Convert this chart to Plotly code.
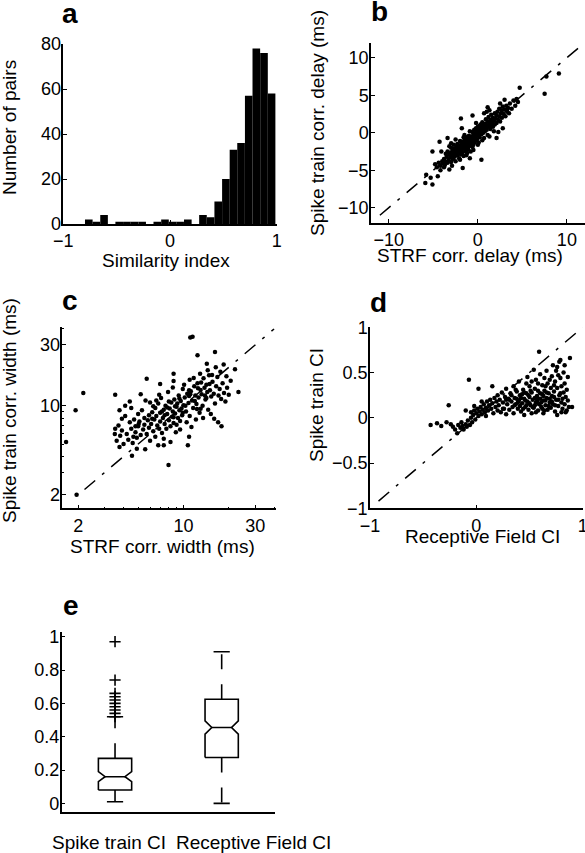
import plotly.graph_objects as go

W, H = 585, 853

# ---------------- Panel a: histogram of similarity index ----------------
sim_bin_centers = [-0.761, -0.690, -0.618, -0.547, -0.476, -0.404, -0.333, -0.261,
                   -0.190, -0.119, -0.047, 0.024, 0.095, 0.167, 0.238, 0.309,
                   0.381, 0.452, 0.524, 0.595, 0.666, 0.738, 0.809, 0.881, 0.952]
sim_counts = [2, 1, 4, 0, 1, 1, 1, 1, 0, 1, 2, 1, 1, 2, 0, 4, 3, 10, 20, 33, 36, 57, 78, 76, 58]
sim_bin_width = 0.0714

# ---------------- Panel b: correlation delays (ms) ----------------
delay_pairs = [
    (-5.8, -5.6), (-5.3, -6.0), (-5.1, -6.9), (-5.9, -6.7), (-4.5, -5.8), (-5.1, -2.5), (-4.1, -2.5),
    (-4.3, -1.2), (-3.2, -4.9), (-1.7, -4.7), (-0.9, -3.4), (-2.4, -2.9), (-3.4, -0.7), (-3.2, -1.8),
    (0.4, -3.6), (-1.9, 1.9), (-0.6, 2.3), (2.1, -0.7), (2.3, 0.1), (1.1, 3.4), (1.3, 3.0), (2.5, 3.9),
    (3.0, 4.4), (4.35, 4.5), (4.5, 4.1), (4.7, 6.0), (7.5, 5.2), (7.7, 7.5), (9.1, 7.9), (3.2, 3.0),
    (2.8, 0.6), (-4.8, -4.2), (-4.6, -4.6), (-4.4, -4.0), (-4.2, -4.4), (-4.0, -3.8), (-3.9, -4.1),
    (-3.8, -3.5), (-3.7, -4.3), (-3.6, -3.9), (-3.5, -3.2), (-3.4, -4.0), (-3.3, -3.6), (-3.2, -2.9),
    (-3.1, -3.3), (-3.0, -3.9), (-3.0, -2.6), (-2.9, -3.1), (-2.8, -3.5), (-2.8, -2.3), (-2.7, -2.8),
    (-2.6, -3.2), (-2.6, -2.1), (-2.5, -2.6), (-2.5, -3.8), (-2.4, -1.9), (-2.4, -2.4), (-2.3, -3.0),
    (-2.3, -1.5), (-2.2, -2.2), (-2.2, -2.7), (-2.1, -1.8), (-2.1, -3.4), (-2.0, -2.0), (-2.0, -2.5),
    (-1.9, -1.6), (-1.9, -2.9), (-1.8, -2.2), (-1.8, -1.2), (-1.7, -1.9), (-1.7, -2.6), (-1.6, -1.4),
    (-1.6, -3.1), (-1.5, -2.0), (-1.5, -1.0), (-1.4, -1.7), (-1.4, -2.4), (-1.3, -1.2), (-1.3, -0.6),
    (-1.2, -1.9), (-1.2, -1.5), (-1.1, -0.9), (-1.1, -2.2), (-1.0, -1.3), (-1.0, -0.4), (-0.9, -1.7),
    (-0.9, -0.8), (-0.8, -1.1), (-0.8, -2.5), (-0.7, -0.5), (-0.7, -1.4), (-0.6, -0.9), (-0.6, 0.1),
    (-0.5, -1.6), (-0.5, -0.3), (-0.4, -0.7), (-0.4, 0.4), (-0.3, -1.1), (-0.3, -0.1), (-0.2, -0.5),
    (-0.2, 0.6), (-0.1, -0.9), (-0.1, 0.2), (0.0, -0.3), (0.0, 0.8), (0.1, 0.0), (0.1, -1.3), (0.2, 0.4),
    (0.2, -0.6), (0.3, 1.1), (0.3, 0.1), (0.4, -0.2), (0.4, 0.7), (0.5, 0.3), (0.5, 1.4), (0.6, 0.0),
    (0.6, 0.9), (0.7, 0.5), (0.7, -0.7), (0.8, 1.2), (0.8, 0.2), (0.9, 0.7), (0.9, 1.8), (1.0, 0.4),
    (1.0, 1.0), (1.1, 1.5), (1.1, -0.3), (1.2, 0.8), (1.2, 2.1), (1.3, 1.2), (1.4, 0.5), (1.4, 1.7),
    (1.5, 1.0), (1.5, 2.4), (1.6, 1.4), (1.7, 0.8), (1.7, 2.0), (1.8, 1.6), (1.9, 2.6), (1.9, 1.1),
    (2.0, 1.9), (2.1, 2.3), (2.1, 1.3), (2.2, 2.8), (2.3, 1.7), (2.4, 2.2), (2.4, 3.2), (2.5, 1.5),
    (2.6, 2.6), (2.7, 3.0), (2.7, 2.0), (2.8, 3.5), (2.9, 2.5), (3.0, 3.1), (3.1, 2.2), (3.2, 3.6),
    (3.3, 2.8), (3.4, 3.3), (3.5, 2.6), (3.6, 3.9), (3.8, 3.2), (4.0, 4.3), (4.2, 3.6), (-2.6, -2.5),
    (-2.2, -1.8), (-1.9, -2.3), (-1.6, -1.8), (-1.4, -1.1), (-1.2, -2.7), (-1.0, -1.8), (-0.8, -0.6),
    (-0.6, -1.9), (-0.4, -1.3), (-0.2, -0.2), (0.0, -1.6), (0.2, 0.9), (-1.5, -0.3), (-2.0, -1.1),
    (-2.7, -1.6), (-3.0, -2.0), (-3.4, -2.5), (-3.6, -2.8), (-3.8, -4.6), (-4.2, -5.0), (-2.9, -4.4),
    (-2.0, -3.6), (-1.3, -3.0), (-0.5, -2.3), (0.5, -1.0), (1.3, -0.5), (1.8, 0.2), (-1.8, 0.6),
    (-2.5, -0.9), (-3.0, -1.4), (0.7, 2.6), (1.0, 2.8), (-0.2, 1.3), (-0.9, 0.2), (-1.6, -0.6),
]
delay_line = [-11, 12]

# ---------------- Panel c: correlation widths (ms) ----------------
width_pairs = [
    (1.66, 5.2), (1.92, 9.2), (2.16, 12.6), (1.95, 2.0), (7.96, 3.43), (11.1, 34.3), (11.5, 34.8),
    (16.2, 26.4), (12.4, 24.9), (23.2, 12.8), (22.0, 19.3), (18.5, 21.0), (3.52, 12.2), (3.76, 9.2),
    (4.1, 10.0), (3.52, 6.6), (3.76, 4.74), (4.55, 4.04), (5.57, 4.55), (5.7, 16.3), (8.6, 17.8),
    (8.6, 15.6), (11.0, 16.0), (10.9, 13.2), (17.0, 7.4), (17.9, 6.9), (20.6, 15.7), (10.9, 5.7),
    (10.7, 4.9), (7.4, 4.9), (6.8, 4.9), (4.65, 5.7), (4.8, 6.9), (5.04, 7.2), (13.0, 9.46),
    (14.2, 11.5), (14.3, 21.3), (16.4, 20.0),
    (3.5, 6.0), (3.6, 5.3), (3.7, 7.0), (3.8, 5.8), (3.9, 6.4), (4.0, 5.0), (4.1, 8.3), (4.2, 6.0),
    (4.3, 5.4), (4.4, 7.4), (4.5, 6.6), (4.5, 9.6), (4.6, 5.1), (4.7, 7.8), (4.8, 6.2), (4.9, 5.6),
    (5.0, 8.6), (5.0, 6.9), (5.1, 7.5), (5.2, 5.9), (5.3, 9.2), (5.4, 6.5), (5.5, 7.1), (5.5, 8.0),
    (5.6, 11.0), (5.7, 6.0), (5.8, 7.7), (5.9, 8.4), (5.9, 6.7), (6.0, 5.3), (4.4, 10.8), (5.2, 12.3),
    (4.9, 4.6), (3.9, 7.9),
    (6.1, 7.2), (6.2, 8.9), (6.3, 6.3), (6.4, 7.8), (6.5, 9.6), (6.5, 5.7), (6.6, 8.3), (6.7, 7.0),
    (6.8, 10.4), (6.9, 6.6), (7.0, 8.8), (7.0, 7.5), (7.1, 11.5), (7.2, 6.1), (7.3, 8.0), (7.4, 9.3),
    (7.5, 7.2), (7.6, 10.0), (7.7, 6.6), (7.8, 8.6), (7.9, 12.8), (8.0, 7.7), (8.1, 9.5), (8.2, 6.9),
    (8.3, 10.6), (8.4, 8.2), (8.5, 9.0), (8.6, 7.3), (8.7, 11.2), (8.8, 8.7), (8.9, 6.2), (9.0, 9.8),
    (9.1, 10.4), (9.2, 8.0), (9.3, 12.0), (9.4, 9.2), (9.5, 7.6), (9.6, 10.9), (9.7, 9.5), (9.8, 8.4),
    (9.9, 13.5), (10.0, 10.1), (6.3, 9.9), (6.9, 12.2), (7.4, 5.5), (8.2, 5.2), (7.0, 14.8),
    (8.5, 13.9), (6.0, 10.6), (7.8, 9.7), (8.8, 9.9), (9.5, 6.5), (6.6, 11.0), (7.5, 8.4), (8.0, 10.8),
    (9.0, 7.1), (6.2, 7.9), (7.2, 9.0), (8.6, 8.1), (9.4, 11.4), (9.9, 8.8),
    (10.2, 11.6), (10.4, 9.0), (10.6, 12.4), (10.8, 10.5), (11.0, 8.3), (11.2, 13.0), (11.4, 11.0),
    (11.6, 9.6), (11.8, 14.2), (12.0, 12.0), (12.2, 10.3), (12.4, 15.0), (12.6, 11.6), (12.8, 8.8),
    (13.0, 13.3), (13.2, 12.3), (13.4, 10.0), (13.6, 16.4), (13.8, 13.8), (14.0, 11.2), (14.2, 14.6),
    (14.4, 12.8), (14.6, 9.3), (14.8, 17.3), (15.0, 13.2), (15.3, 11.8), (15.6, 15.4), (15.9, 12.4),
    (16.2, 10.4), (16.5, 14.2), (16.8, 16.8), (17.1, 12.0), (17.4, 13.5), (17.8, 11.3), (18.2, 15.0),
    (18.6, 12.6), (19.0, 10.8), (19.5, 13.8), (20.0, 12.2), (10.5, 7.4), (11.3, 6.8), (12.1, 7.8),
    (13.5, 8.0), (15.2, 8.6), (16.0, 7.9), (10.1, 14.6), (11.7, 16.5), (12.9, 17.8), (14.5, 19.0),
    (13.1, 15.2), (15.5, 17.4), (10.9, 11.9), (11.9, 10.9), (12.5, 13.7), (13.9, 12.0), (14.9, 14.8),
    (10.3, 10.0), (11.1, 12.3), (12.3, 9.4), (17.6, 18.5), (19.3, 17.0),
]
width_line = [2.2, 40]

# ---------------- Panel d: complex indices ----------------
ci_pairs = [
    (-0.43, -0.08), (-0.37, -0.06), (-0.33, -0.09), (-0.26, 0.14), (-0.24, -0.07), (-0.22, -0.10),
    (-0.20, -0.13), (-0.18, -0.17), (-0.17, -0.08), (-0.15, -0.11), (-0.14, -0.05), (-0.13, -0.09),
    (-0.12, -0.13), (-0.10, -0.07), (-0.09, -0.10), (-0.08, -0.03), (-0.07, 0.42), (-0.06, -0.08),
    (-0.05, 0.00), (-0.05, 0.06), (-0.04, -0.05), (-0.03, 0.03), (-0.02, 0.08), (-0.01, -0.02),
    (0.00, 0.05), (0.01, 0.10), (0.02, 0.32), (0.02, 0.02), (0.03, 0.07), (0.04, 0.12), (0.05, 0.04),
    (0.06, 0.09), (0.07, 0.15), (0.08, 0.06), (0.09, 0.11), (0.10, 0.18), (0.11, 0.08), (0.12, 0.14),
    (0.13, 0.20), (0.14, 0.10), (0.15, 0.35), (0.15, 0.16), (0.16, 0.05), (0.17, 0.22), (0.18, 0.12),
    (0.19, 0.18), (0.20, 0.08), (0.20, 0.25), (-0.28, -0.05), (-0.10, 0.08), (-0.02, 0.13),
    (0.05, 0.18), (0.09, 0.02),
    (0.21, 0.14), (0.22, 0.20), (0.23, 0.06), (0.24, 0.28), (0.25, 0.17), (0.26, 0.10), (0.27, 0.23),
    (0.28, 0.32), (0.28, 0.04), (0.29, 0.15), (0.30, 0.21), (0.31, 0.09), (0.32, 0.27), (0.33, 0.18),
    (0.34, 0.12), (0.35, 0.35), (0.35, 0.05), (0.36, 0.22), (0.37, 0.15), (0.38, 0.29), (0.39, 0.10),
    (0.40, 0.19), (0.40, 0.40), (0.41, 0.25), (0.42, 0.07), (0.43, 0.16), (0.44, 0.31), (0.45, 0.21),
    (0.45, 0.03), (0.46, 0.12), (0.47, 0.27), (0.48, 0.18), (0.48, 0.45), (0.49, 0.09), (0.50, 0.23),
    (0.50, 0.35), (0.51, 0.14), (0.52, 0.05), (0.52, 0.28), (0.53, 0.20), (0.54, 0.53), (0.54, 0.11),
    (0.55, 0.32), (0.56, 0.17), (0.56, 0.42), (0.57, 0.24), (0.58, 0.08), (0.58, 0.30), (0.59, 0.73),
    (0.59, 0.15), (0.60, 0.21), (0.60, 0.48), (0.61, 0.12), (0.62, 0.36), (0.62, 0.26), (0.63, 0.05),
    (0.63, 0.19), (0.64, 0.44), (0.64, 0.30), (0.65, 0.14), (0.66, 0.22), (0.66, 0.52), (0.67, 0.09),
    (0.67, 0.38), (0.68, 0.27), (0.69, 0.17), (0.70, 0.33), (0.70, 0.11), (0.71, 0.46), (0.71, 0.24),
    (0.72, 0.58), (0.72, 0.15), (0.73, 0.29), (0.74, 0.07), (0.74, 0.40), (0.75, 0.20), (0.75, 0.52),
    (0.76, 0.03), (0.76, 0.56), (0.76, 0.33), (0.77, 0.13), (0.78, 0.25), (0.78, 0.62), (0.79, 0.64),
    (0.79, 0.44), (0.80, 0.17), (0.80, 0.35), (0.81, 0.10), (0.82, 0.28), (0.82, 0.50), (0.83, 0.15),
    (0.84, 0.23), (0.85, 0.31), (0.85, 0.08), (0.86, 0.19), (0.87, 0.12), (0.88, 0.66), (0.90, 0.12),
    (0.86, 0.45),
    (0.31, 0.20), (0.33, 0.25), (0.36, 0.14), (0.38, 0.21), (0.39, 0.17), (0.41, 0.13), (0.42, 0.22),
    (0.43, 0.26), (0.44, 0.10), (0.46, 0.19), (0.47, 0.14), (0.49, 0.25), (0.50, 0.16), (0.51, 0.30),
    (0.53, 0.12), (0.55, 0.22), (0.57, 0.18), (0.58, 0.21), (0.60, 0.27), (0.61, 0.17), (0.62, 0.10),
    (0.63, 0.24), (0.65, 0.19), (0.66, 0.28), (0.68, 0.13), (0.69, 0.21), (0.71, 0.18), (0.73, 0.23),
    (0.74, 0.14), (0.77, 0.20), (0.79, 0.27), (0.81, 0.21), (0.83, 0.38), (0.84, 0.06), (0.52, 0.40),
    (0.56, 0.06), (0.64, 0.08), (0.47, 0.38), (0.37, 0.31), (0.28, 0.20), (0.25, 0.10), (0.45, 0.28),
    (0.55, 0.14), (0.69, 0.42), (0.73, 0.36), (0.77, 0.47), (0.80, 0.06), (0.83, 0.58), (0.65, 0.35),
    (0.58, 0.38),
]
ci_line = [-0.92, 1.0]

# ---------------- Panel e: box plot summary statistics ----------------
box_labels = ["Spike train CI", "Receptive Field CI"]
box_pos = [1, 2]
box_lower = [0.01, 0.00]
box_q1 = [0.08, 0.275]
box_median = [0.16, 0.455]
box_q3 = [0.27, 0.625]
box_upper = [0.52, 0.91]
box_notch = [0.03, 0.04]
spike_outliers = [0.97, 0.74, 0.66, 0.64, 0.62, 0.60, 0.58, 0.56, 0.54, 0.52]

BOX_HALF = 0.156
NOTCH_IN = 0.063
CAP_HALF = 0.076

FONT = "Liberation Sans, Arial, Helvetica, sans-serif"
TICKF = dict(family=FONT, size=18, color="black")

fig = go.Figure()

# a
fig.add_trace(go.Bar(x=sim_bin_centers, y=sim_counts, width=sim_bin_width,
                     marker=dict(color="black", line=dict(width=0)),
                     xaxis="x", yaxis="y", showlegend=False))

DOT = dict(color="black", size=4.5, line=dict(width=0))
DASHDOT = "14px,9px,3px,9px"

# b
fig.add_trace(go.Scatter(x=delay_line, y=delay_line, mode="lines",
                         line=dict(color="black", width=1.5, dash=DASHDOT),
                         xaxis="x2", yaxis="y2", showlegend=False))
fig.add_trace(go.Scatter(x=[p[0] for p in delay_pairs], y=[p[1] for p in delay_pairs],
                         mode="markers", marker=DOT, xaxis="x2", yaxis="y2", showlegend=False))
# c
fig.add_trace(go.Scatter(x=width_line, y=width_line, mode="lines",
                         line=dict(color="black", width=1.5, dash=DASHDOT),
                         xaxis="x3", yaxis="y3", showlegend=False))
fig.add_trace(go.Scatter(x=[p[0] for p in width_pairs], y=[p[1] for p in width_pairs],
                         mode="markers", marker=DOT, xaxis="x3", yaxis="y3", showlegend=False))
# d
fig.add_trace(go.Scatter(x=ci_line, y=ci_line, mode="lines",
                         line=dict(color="black", width=1.5, dash=DASHDOT),
                         xaxis="x4", yaxis="y4", showlegend=False))
fig.add_trace(go.Scatter(x=[p[0] for p in ci_pairs], y=[p[1] for p in ci_pairs],
                         mode="markers", marker=DOT, xaxis="x4", yaxis="y4", showlegend=False))

# e: notched boxes drawn from the summary statistics
LINE = dict(color="black", width=1.6)
for i, c in enumerate(box_pos):
    q1, md, q3, n = box_q1[i], box_median[i], box_q3[i], box_notch[i]
    bx = [c - BOX_HALF, c - BOX_HALF, c - BOX_HALF + NOTCH_IN, c - BOX_HALF, c - BOX_HALF,
          c + BOX_HALF, c + BOX_HALF, c + BOX_HALF - NOTCH_IN, c + BOX_HALF, c + BOX_HALF, c - BOX_HALF]
    by = [q1, md - n, md, md + n, q3, q3, md + n, md, md - n, q1, q1]
    fig.add_trace(go.Scatter(x=bx, y=by, mode="lines", line=LINE,
                             xaxis="x5", yaxis="y5", showlegend=False))
    fig.add_trace(go.Scatter(x=[c - BOX_HALF + NOTCH_IN, c + BOX_HALF - NOTCH_IN], y=[md, md],
                             mode="lines", line=LINE, xaxis="x5", yaxis="y5", showlegend=False))
    for end, start in ((box_upper[i], q3), (box_lower[i], q1)):
        fig.add_trace(go.Scatter(x=[c, c], y=[start, end], mode="lines",
                                 line=dict(color="black", width=1.6, dash="15px,15px"),
                                 xaxis="x5", yaxis="y5", showlegend=False))
        fig.add_trace(go.Scatter(x=[c - CAP_HALF, c + CAP_HALF], y=[end, end], mode="lines",
                                 line=LINE, xaxis="x5", yaxis="y5", showlegend=False))

fig.add_trace(go.Scatter(x=[box_pos[0]] * len(spike_outliers), y=spike_outliers, mode="markers",
                         marker=dict(symbol="cross-thin", size=8, color="black",
                                     line=dict(color="black", width=1.6)),
                         xaxis="x5", yaxis="y5", showlegend=False))


def xd(l, r):
    return [l / W, r / W]


def yd(top, bottom):
    return [1 - bottom / H, 1 - top / H]


AX = dict(showline=True, linecolor="black", linewidth=1.5, ticks="inside", ticklen=4,
          tickcolor="black", tickwidth=1, showgrid=False, zeroline=False, tickfont=TICKF,
          mirror=False, fixedrange=True, automargin=False, ticklabeloverflow="allow")
YAX = dict(AX, ticklabelstandoff=-3)

fig.update_layout(
    template="none",
    width=W, height=H, margin=dict(l=0, r=0, t=0, b=0, autoexpand=False),
    paper_bgcolor="white", plot_bgcolor="white", showlegend=False,
    font=dict(family=FONT, color="black"),
    xaxis=dict(AX, domain=xd(63.3, 276.7), range=[-1, 1], tickvals=[-1, 0, 1], anchor="y"),
    yaxis=dict(YAX, domain=yd(44, 224), range=[0, 80], tickvals=[0, 20, 40, 60, 80], anchor="x"),
    xaxis2=dict(AX, domain=xd(371, 584.7), range=[-12, 12], tickvals=[-10, 0, 10], anchor="y2"),
    yaxis2=dict(YAX, domain=yd(42.7, 222.7), range=[-12, 12], tickvals=[-10, -5, 0, 5, 10], anchor="x2"),
    xaxis3=dict(AX, domain=xd(62.3, 276), type="log", range=[0.195, 1.615], tickvals=[2, 10, 30],
                ticktext=["2", "10", "30"], anchor="y3",
                minor=dict(ticks="inside", ticklen=2, tickcolor="black",
                           tickvals=[3, 4, 5, 6, 7, 8, 9, 20, 40])),
    yaxis3=dict(YAX, domain=yd(327.3, 508.3), type="log", range=[0.195, 1.615], tickvals=[2, 10, 30],
                ticktext=["2", "10", "30"], anchor="x3",
                minor=dict(ticks="inside", ticklen=2, tickcolor="black",
                           tickvals=[3, 4, 5, 6, 7, 8, 9, 20, 40])),
    xaxis4=dict(AX, domain=xd(370, 582.7), range=[-1, 1], tickvals=[-1, 0, 1], anchor="y4"),
    yaxis4=dict(YAX, domain=yd(327.3, 508.3), range=[-1, 1], tickvals=[-1, -0.5, 0, 0.5, 1],
                ticktext=["\u22121", "\u22120.5", "0", "0.5", "1"], anchor="x4"),
    xaxis5=dict(AX, domain=xd(61.7, 275), range=[0.5, 2.5], showticklabels=False, ticks="",
                anchor="y5"),
    yaxis5=dict(YAX, domain=yd(631.7, 811.7), range=[-0.05, 1.03],
                tickvals=[0, 0.2, 0.4, 0.6, 0.8, 1], ticktext=["0", "0.2", "0.4", "0.6", "0.8", "1"],
                anchor="x5"),
)

ann = []


def text(t, x, y, size=19, angle=0, bold=False):
    ann.append(dict(text=("<b>%s</b>" % t) if bold else t, x=x / W, y=1 - y / H,
                    xref="paper", yref="paper", showarrow=False, textangle=angle,
                    xanchor="center", yanchor="middle",
                    font=dict(family=FONT, size=size, color="black")))


# panel letters
for letter, lx, ly in (("a", 70, 13), ("b", 379, 11), ("c", 70, 300), ("d", 378, 302), ("e", 71, 605)):
    text(letter, lx, ly, size=28, bold=True)

# axis titles
text("Similarity index", 166, 261)
text("Number of pairs", 9, 128, angle=-90)
text("STRF corr. delay (ms)", 470, 255)
text("Spike train corr. delay (ms)", 318, 123, angle=-90)
text("STRF corr. width (ms)", 162, 546)
text("Spike train corr. width (ms)", 9, 411, angle=-90)
text("Receptive Field CI", 482, 536)
text("Spike train CI", 317, 405, angle=-90)
text(box_labels[0], 109, 842)
text(box_labels[1], 253, 842)

fig.update_layout(annotations=ann)

fig.write_html("out.html", config={"displayModeBar": False},
               post_script="document.body.style.margin='0px';")
